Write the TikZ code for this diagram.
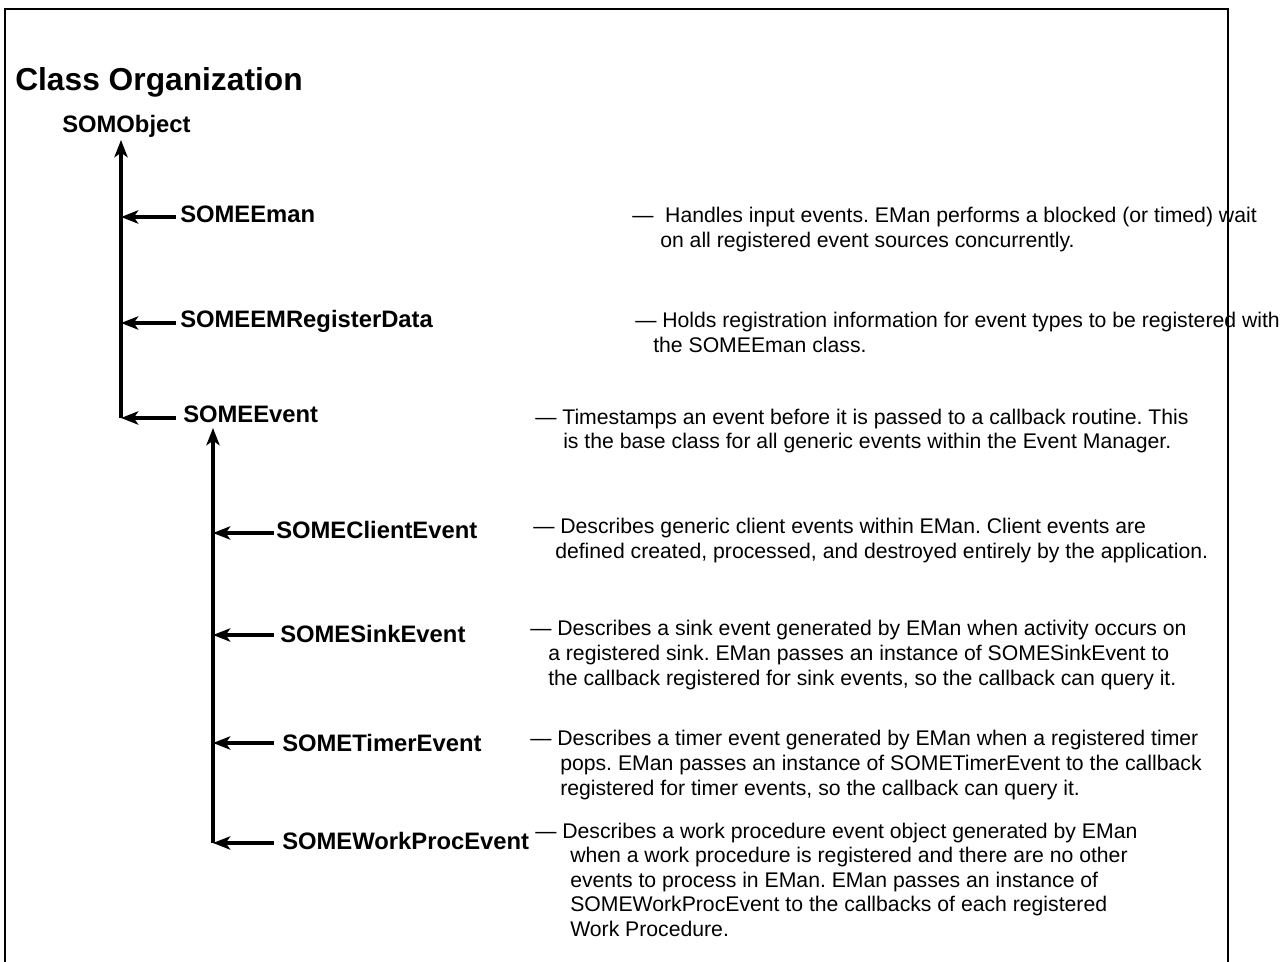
\documentclass[tikz,border=0pt]{standalone}
\usepackage{fontspec}
\setmainfont{Liberation Sans}
\usetikzlibrary{arrows.meta,calc}
\frenchspacing
\begin{document}
\begin{tikzpicture}[x=0.75pt,y=-0.75pt,
  titlestyle/.style={anchor=base west,inner sep=0pt,font=\fontsize{23.8pt}{28pt}\selectfont\bfseries},
  cls/.style={anchor=base west,inner sep=0pt,font=\fontsize{17.85pt}{21pt}\selectfont\bfseries},
  desc/.style={anchor=base west,inner sep=0pt,font=\fontsize{15.9pt}{18.75pt}\selectfont},
  arr/.style={line width=2.4pt,-{Stealth[length=13pt,width=10pt,inset=3.5pt]}},
  framestyle/.style={line width=2.1pt,line join=miter}]
\useasboundingbox (0,0) rectangle (1282,962);

% frame
\draw[framestyle] (5,962) -- (5,9) -- (1228,9) -- (1228,962);

% title and class names
\node[titlestyle] (title) at (15,91) {Class Organization};
\node[cls] (obj) at (62,133) {SOMObject};
\node[cls] (eman) at (180,223) {SOMEEman};
\node[cls] (reg) at (180,328) {SOMEEMRegisterData};
\node[cls] (event) at (183,423) {SOMEEvent};
\node[cls] (client) at (276,538) {SOMEClientEvent};
\node[cls] (sink) at (280,642) {SOMESinkEvent};
\node[cls] (timer) at (282,751) {SOMETimerEvent};
\node[cls] (work) at (282,849) {SOMEWorkProcEvent};

% trunk and branch reference coordinates
\coordinate (tr1) at (121,418);
\coordinate (tr2) at (213,843);
\coordinate (g1) at (176,0);
\coordinate (g2) at (274,0);

% trunks
\draw[arr] (tr1) -- ($(obj.base west -| tr1)+(0,7)$);
\draw[arr] (tr2) -- ($(event.base west -| tr2)+(0,5)$);

% branches to first trunk
\draw[arr] ($(eman.base west -| g1)+(0,-6)$) -- ($(eman.base west -| tr1)+(0,-6)$);
\draw[arr] ($(reg.base west -| g1)+(0,-5)$) -- ($(reg.base west -| tr1)+(0,-5)$);
\draw[arr] ($(event.base west -| g1)+(0,-5)$) -- ($(event.base west -| tr1)+(0,-5)$);

% branches to second trunk
\draw[arr] ($(client.base west -| g2)+(0,-5)$) -- ($(client.base west -| tr2)+(0,-5)$);
\draw[arr] ($(sink.base west -| g2)+(0,-7)$) -- ($(sink.base west -| tr2)+(0,-7)$);
\draw[arr] ($(timer.base west -| g2)+(0,-8)$) -- ($(timer.base west -| tr2)+(0,-8)$);
\draw[arr] ($(work.base west -| g2)+(0,-6)$) -- ($(work.base west -| tr2)+(0,-6)$);

% descriptions
\node[desc] (d1a) at (632,223) {—\ \ Handles input events. EMan performs a blocked (or timed) wait};
\node[desc] (d1b) at (660,248) {on all registered event sources concurrently.};

\node[desc] (d2a) at (635,328) {— Holds registration information for event types to be registered with};
\node[desc] (d2b) at (653,353) {the SOMEEman class.};

\node[desc] (d3a) at (535,425) {— Timestamps an event before it is passed to a callback routine. This};
\node[desc] (d3b) at (563,449) {is the base class for all generic events within the Event Manager.};

\node[desc] (d4a) at (533,533) {— Describes generic client events within EMan. Client events are};
\node[desc] (d4b) at (555,558) {defined created, processed, and destroyed entirely by the application.};

\node[desc] (d5a) at (530,635) {— Describes a sink event generated by EMan when activity occurs on};
\node[desc] (d5b) at (548,660) {a registered sink. EMan passes an instance of SOMESinkEvent to};
\node[desc] (d5c) at (548,685) {the callback registered for sink events, so the callback can query it.};

\node[desc] (d6a) at (530,745) {— Describes a timer event generated by EMan when a registered timer};
\node[desc] (d6b) at (560,770) {pops. EMan passes an instance of SOMETimerEvent to the callback};
\node[desc] (d6c) at (560,795) {registered for timer events, so the callback can query it.};

\node[desc] (d7a) at (535,838) {— Describes a work procedure event object generated by EMan};
\node[desc] (d7b) at (570,862) {when a work procedure is registered and there are no other};
\node[desc] (d7c) at (570,887) {events to process in EMan. EMan passes an instance of};
\node[desc] (d7d) at (570,911) {SOMEWorkProcEvent to the callbacks of each registered};
\node[desc] (d7e) at (570,936) {Work Procedure.};
\end{tikzpicture}
\end{document}
